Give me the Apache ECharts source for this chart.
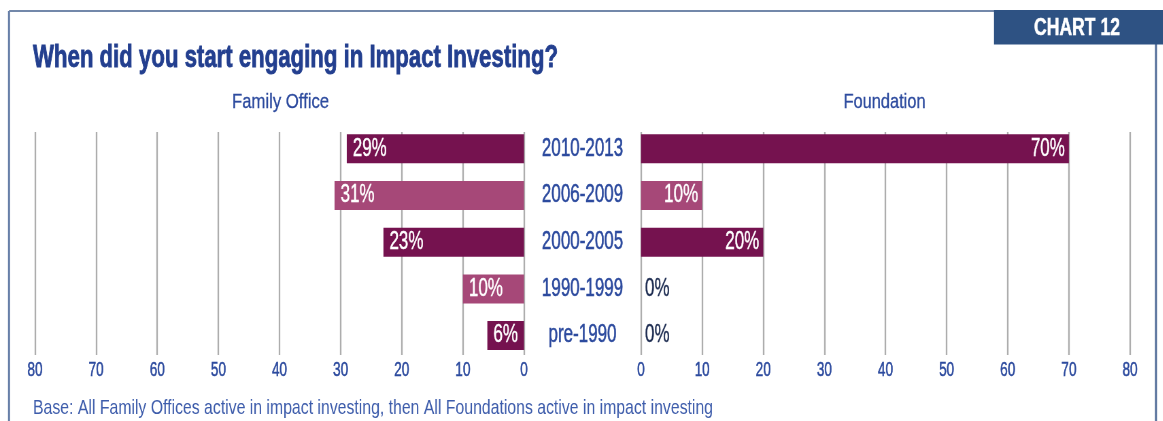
<!DOCTYPE html>
<html><head><meta charset="utf-8">
<script src="https://cdn.jsdelivr.net/npm/echarts@6/dist/echarts.min.js"></script>
<style>
html,body{margin:0;padding:0;background:#fff;overflow:hidden}
#wrap{width:1163px;height:421px;overflow:hidden;position:relative}
#c{height:421px;transform-origin:0 0;position:absolute;left:0;top:0}
</style>
</head><body><div id="wrap"><div id="c"></div></div>
<script>
const categories = ['2010-2013', '2006-2009', '2000-2005', '1990-1999', 'pre-1990'];
const familyOffice = [29, 31, 23, 10, 6];
const foundation = [70, 10, 20, 0, 0];
const axisTicks = [0, 10, 20, 30, 40, 50, 60, 70, 80];
const titleText = 'When did you start engaging in Impact Investing?';
const leftTitle = 'Family Office';
const rightTitle = 'Foundation';
const badgeText = 'CHART 12';
const noteText = 'Base: All Family Offices active in impact investing, then All Foundations active in impact investing';

// horizontal condensing factor (the original uses a condensed typeface)
const S = 0.68;
const FONT = "'Liberation Sans', Arial, sans-serif";
const BLUE = '#2c4a9e';
const NAVY = '#1c2b50';
const DARK = '#75124f';
const LIGHT = '#a64878';
const barColor = p => (p.dataIndex % 2 === 0 ? DARK : LIGHT);

const el = document.getElementById('c');
el.style.width = (1163 / S) + 'px';
el.style.transform = 'scaleX(' + S + ')';

const X = v => v / S; // final px -> pre-scale px

const mctx = document.createElement('canvas').getContext('2d');
// text sized by cap height, then squeezed horizontally to the target width
function fitText(text, weight, capH, targetW, x, y, align, fill, extra) {
  const size = capH / 0.716;
  mctx.font = weight + ' ' + size + 'px ' + FONT;
  const w = mctx.measureText(text).width;
  const sx = X(targetW) / w;
  return {
    type: 'text', x: X(x), y: y, scaleX: sx, scaleY: 1,
    style: Object.assign({ text: text, fill: fill, font: weight + ' ' + size.toFixed(2) + 'px ' + FONT, align: align, verticalAlign: 'middle' }, extra || {})
  };
}

const xMin = axisTicks[0], xMax = axisTicks[axisTicks.length - 1], xInt = axisTicks[1] - axisTicks[0];

function mkData(arr) {
  return arr.map(v => v === 0
    ? { value: v, label: { position: 'right', color: NAVY, textBorderColor: NAVY, distance: X(4) } }
    : { value: v });
}

const L = X(35), R = X(641), W = X(489);
const gridLine = { show: true, lineStyle: { color: '#adadad', width: X(1.6) } };
const tickLabel = { margin: 5.5, fontFamily: FONT, fontSize: 20, color: BLUE, textBorderColor: BLUE, textBorderWidth: 0.5 };
const barLabel = { show: true, formatter: '{c}%', color: '#fff', textBorderColor: '#fff', textBorderWidth: 0.4, fontFamily: FONT, fontSize: 25 };

const chart = echarts.init(el);
chart.setOption({
  animation: false,
  graphic: [
    { type: 'line', shape: { x1: X(9), y1: 11, x2: X(9), y2: 440 }, style: { stroke: '#5f78a3', lineWidth: X(2) } },
    { type: 'line', shape: { x1: X(9), y1: 11, x2: X(1156), y2: 11 }, style: { stroke: '#7388aa', lineWidth: 2 } },
    { type: 'line', shape: { x1: X(1156), y1: 11, x2: X(1156), y2: 440 }, style: { stroke: '#4f6a96', lineWidth: X(2) } },
    { type: 'rect', shape: { x: X(994), y: 10, width: X(170), height: 34.5 }, style: { fill: '#2e5283' } },
    fitText(badgeText, 'bold', 17.5, 86, 1077, 28.5, 'center', '#fff', { stroke: '#fff', lineWidth: 0.5 }),
    fitText(titleText, 'bold', 22, 525, 33, 58.5, 'left', '#233f8f', { stroke: '#233f8f', lineWidth: 0.8 }),
    fitText(leftTitle, 'normal', 15, 97, 280.5, 102.5, 'center', BLUE, { stroke: BLUE, lineWidth: 0.3 }),
    fitText(rightTitle, 'normal', 15, 82, 884.5, 102.5, 'center', BLUE, { stroke: BLUE, lineWidth: 0.3 }),
    fitText(noteText, 'normal', 15, 680, 33, 408.5, 'left', '#3d5cab')
  ],
  grid: [
    { left: L, width: W, top: 125.45, height: 233.5 },
    { left: R, width: W, top: 125.45, height: 233.5 },
    { left: L, width: W, top: 132, height: 223 },
    { left: R, width: W, top: 132, height: 223 }
  ],
  xAxis: [
    { gridIndex: 0, type: 'value', inverse: true, min: xMin, max: xMax, interval: xInt, show: false },
    { gridIndex: 1, type: 'value', min: xMin, max: xMax, interval: xInt, show: false },
    { gridIndex: 2, type: 'value', inverse: true, min: xMin, max: xMax, interval: xInt,
      axisLine: { show: false }, axisTick: { show: false }, splitLine: gridLine, axisLabel: tickLabel },
    { gridIndex: 3, type: 'value', min: xMin, max: xMax, interval: xInt,
      axisLine: { show: false }, axisTick: { show: false }, splitLine: gridLine, axisLabel: tickLabel }
  ],
  yAxis: [
    { gridIndex: 0, type: 'category', data: categories, inverse: true, position: 'right',
      axisLine: { show: false }, axisTick: { show: false },
      axisLabel: { margin: X(58.5), align: 'center', fontFamily: FONT, fontSize: 25, color: BLUE, textBorderColor: BLUE, textBorderWidth: 0.5 } },
    { gridIndex: 1, type: 'category', data: categories, inverse: true, show: false },
    { gridIndex: 2, type: 'value', show: false },
    { gridIndex: 3, type: 'value', show: false }
  ],
  series: [
    { type: 'bar', xAxisIndex: 0, yAxisIndex: 0, data: mkData(familyOffice), barWidth: 29,
      itemStyle: { color: barColor }, z: 5,
      label: Object.assign({ position: 'insideLeft', distance: X(6) }, barLabel) },
    { type: 'bar', xAxisIndex: 1, yAxisIndex: 1, data: mkData(foundation), barWidth: 29,
      itemStyle: { color: barColor }, z: 5,
      label: Object.assign({ position: 'insideRight', distance: X(4) }, barLabel) }
  ]
});
</script></body></html>
